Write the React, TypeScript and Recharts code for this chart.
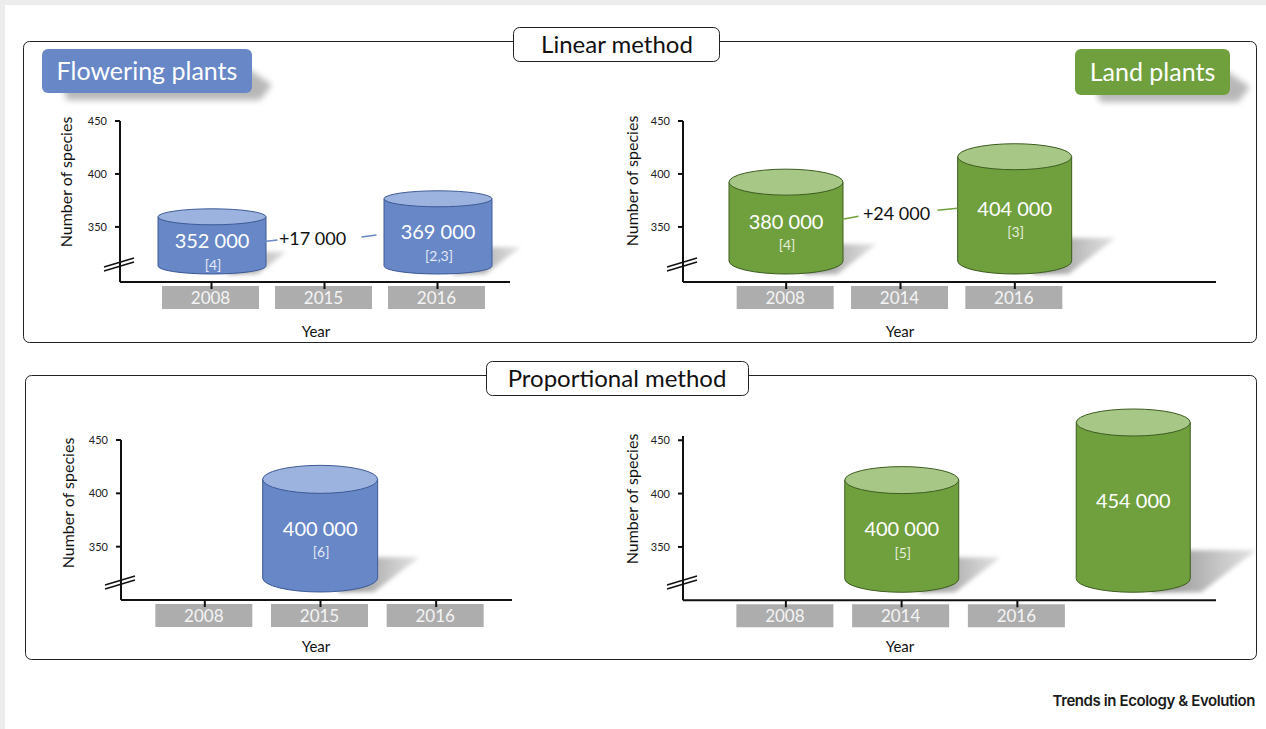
import React from 'react';
import { BarChart, Bar, XAxis, YAxis, ReferenceDot } from 'recharts';

const FONT = 'Lato, "Open Sans", "Noto Sans", sans-serif';

// ---------- data (values in thousands of species) ----------
const yTicks = [350, 400, 450];

const flowerLinearYears = ['2008', '2015', '2016'];
const flowerLinearValues = [352, null, 369];
const flowerLinearRefs = ['[4]', '', '[2,3]'];
const flowerLinearDelta = '+17 000';
const flowerLinearDeltaYear = '2015';
const flowerLinearDeltaAnchor = 339.5;

const landLinearYears = ['2008', '2014', '2016'];
const landLinearValues = [380, null, 404];
const landLinearRefs = ['[4]', '', '[3]'];
const landLinearDelta = '+24 000';
const landLinearDeltaYear = '2014';
const landLinearDeltaAnchor = 363;

const flowerPropYears = ['2008', '2015', '2016'];
const flowerPropValues = [null, 400, null];
const flowerPropRefs = ['', '[6]', ''];

const landPropYears = ['2008', '2014', '2016', ''];
const landPropValues = [null, 400, null, 454];
const landPropRefs = ['', '[5]', '', ''];

const build = (years: string[], values: (number | null)[], refs: string[]) =>
  years.map((year, i) => ({ year, value: values[i], ref: refs[i] }));

const BLUE = { body: '#6787C7', top: '#9BB3DE', stroke: '#3E5A96', ref: '#E3E9F5', line: '#6787C7' };
const GREEN = { body: '#70A03E', top: '#A6C786', stroke: '#3C5C1F', ref: '#E5EEDB', line: '#70A03E' };

function Cylinder(props: any) {
  const { x, y, width, height, payload, ry, palette, uid, index } = props;
  if (!payload || payload.value == null || !isFinite(y) || !isFinite(height)) return <g />;
  const base = y + height;
  const cx = x + width / 2;
  const rx = width / 2;
  const topC = y - ry;
  const lowest = base - 8;
  const botC = lowest - ry;
  const R = x + width;
  const bodyH = botC - topC;
  const ext = 0.42 * bodyH;
  const sh = Math.min(42, 0.25 * bodyH + 10);
  const gid = `sg-${uid}-${index}`;
  const fid = `sf-${uid}-${index}`;
  const midY = (topC + botC) / 2;
  return (
    <g>
      <defs>
        <linearGradient id={gid} x1="0" y1="0" x2="1" y2="0">
          <stop offset="0" stopColor="#7a7a7a" stopOpacity={0.95} />
          <stop offset="1" stopColor="#c8c8c8" stopOpacity={0.55} />
        </linearGradient>
        <filter id={fid} x="-30%" y="-30%" width="160%" height="160%">
          <feGaussianBlur stdDeviation="2" />
        </filter>
      </defs>
      <polygon
        points={`${R - 40},${lowest} ${R - 12},${lowest - sh} ${R + ext},${lowest - sh} ${R + ext - 1.3 * sh},${lowest}`}
        fill={`url(#${gid})`}
        filter={`url(#${fid})`}
      />
      <path
        d={`M${x},${topC} L${x},${botC} A${rx},${ry} 0 0 0 ${R},${botC} L${R},${topC} Z`}
        fill={palette.body}
        stroke={palette.stroke}
        strokeWidth={1}
      />
      <ellipse cx={cx} cy={topC} rx={rx} ry={ry} fill={palette.top} stroke={palette.stroke} strokeWidth={1} />
      <text x={cx} y={midY + 7} textAnchor="middle" fontSize={20} fill="#ffffff" fontFamily={FONT}>
        {`${payload.value} 000`}
      </text>
      {payload.ref ? (
        <text x={cx + 1} y={midY + 28.5} textAnchor="middle" fontSize={14} fill={palette.ref} fontFamily={FONT}>
          {payload.ref}
        </text>
      ) : null}
    </g>
  );
}

function YearTick(props: any) {
  const { x, y, payload } = props;
  if (!payload || !payload.value) return <g />;
  return (
    <g>
      <rect x={x - 49.5} y={y + 4} width={97} height={23} fill="#adadad" />
      <line x1={x} y1={y} x2={x} y2={y + 7} stroke="#111" strokeWidth={2} />
      <text x={x - 1} y={y + 22} textAnchor="middle" fontSize={17} fill="#f4f4f4" fontFamily={FONT}>
        {payload.value}
      </text>
    </g>
  );
}

function DeltaLabel(props: any) {
  const { cx, cy, text, dx, l1, l2, color } = props;
  if (!isFinite(cx) || !isFinite(cy)) return <g />;
  return (
    <g>
      <line x1={cx + l1[0]} y1={cy + l1[1]} x2={cx + l1[2]} y2={cy + l1[3]} stroke={color} strokeWidth={1.5} />
      <line x1={cx + l2[0]} y1={cy + l2[1]} x2={cx + l2[2]} y2={cy + l2[3]} stroke={color} strokeWidth={1.5} />
      <text x={cx + dx} y={cy + 6.5} textAnchor="middle" fontSize={18} fill="#111" fontFamily={FONT}>
        {text}
      </text>
    </g>
  );
}

type Layout = { left: number; right: number; top: number; bottom: number };

function CylinderChart(props: any) {
  const { id, data, layout, domain, padding, barSize, ry, palette, delta } = props;
  const L: Layout = layout;
  const mTop = 50, mLeft = 10, yW = 50, xH = 45, mBottom = 5, mRight = 60;
  const divLeft = L.left - yW - mLeft;
  const divTop = L.top - mTop;
  const width = L.right - L.left + yW + mLeft + mRight;
  const height = L.bottom - L.top + mTop + xH + mBottom;
  return (
    <div style={{ position: 'absolute', left: divLeft, top: divTop }}>
      <BarChart
        width={width}
        height={height}
        data={data}
        margin={{ top: mTop, left: mLeft, right: mRight, bottom: mBottom }}
      >
        <XAxis
          dataKey="year"
          type="category"
          padding={padding}
          height={xH}
          tickLine={false}
          tickSize={0}
          tickMargin={0}
          interval={0}
          axisLine={{ stroke: '#111', strokeWidth: 2 }}
          tick={<YearTick />}
        />
        <YAxis
          type="number"
          domain={domain}
          ticks={yTicks}
          interval={0}
          width={yW}
          tickSize={5}
          tickMargin={8}
          axisLine={{ stroke: '#111', strokeWidth: 2 }}
          tickLine={{ stroke: '#111', strokeWidth: 2 }}
          tick={{ fontSize: 11, fill: '#222', fontFamily: FONT }}
        />
        <Bar
          dataKey="value"
          barSize={barSize}
          isAnimationActive={false}
          shape={(p: any) => <Cylinder {...p} ry={ry} palette={palette} uid={id} />}
        />
        {delta ? (
          <ReferenceDot
            x={delta.year}
            y={delta.anchor}
            r={0}
            isFront
            shape={(p: any) => <DeltaLabel {...p} {...delta} color={palette.line} />}
          />
        ) : null}
      </BarChart>
    </div>
  );
}

const PX_PER_UNIT_BOTTOM = 160 / 150;
const landPropMax = Math.max(450, ...(landPropValues.filter((v) => v != null) as number[]));

const layoutTL: Layout = { left: 120, right: 510, top: 121, bottom: 282 };
const layoutTR: Layout = { left: 683, right: 1216, top: 121, bottom: 282 };
const layoutBL: Layout = { left: 121, right: 512, top: 440, bottom: 600 };
const layoutBR: Layout = { left: 683, right: 1216, top: 440 - (landPropMax - 450) * PX_PER_UNIT_BOTTOM, bottom: 600 };

function BreakMark({ L }: { L: Layout }) {
  const x = L.left;
  const b = L.bottom;
  return (
    <g stroke="#111" strokeWidth={1.5}>
      <line x1={x - 16} y1={b - 11} x2={x + 14} y2={b - 20} />
      <line x1={x - 16} y1={b - 15} x2={x + 14} y2={b - 24} />
    </g>
  );
}

function TagBox({ x, y, w, h, fill, text }: any) {
  const R = x + w;
  const B = y + h;
  return (
    <g>
      <polygon
        points={`${x + 20},${B - 8} ${R - 5},${B - 25} ${R + 20},${B - 8} ${R + 8},${B + 7} ${x + 25},${B + 7}`}
        fill="#9a9a9a"
        opacity={0.7}
        filter="url(#tagBlur)"
      />
      <rect x={x} y={y} width={w} height={h} rx={6} fill={fill} />
      <text x={x + w / 2} y={y + h / 2 + 8.5} textAnchor="middle" fontSize={25} fill="#fff" fontFamily={FONT}>
        {text}
      </text>
    </g>
  );
}

export default function App() {
  const dTL = build(flowerLinearYears, flowerLinearValues, flowerLinearRefs);
  const dTR = build(landLinearYears, landLinearValues, landLinearRefs);
  const dBL = build(flowerPropYears, flowerPropValues, flowerPropRefs);
  const dBR = build(landPropYears, landPropValues, landPropRefs);

  return (
    <div
      style={{
        position: 'absolute',
        left: 0,
        top: 0,
        width: 1266,
        height: 729,
        overflow: 'hidden',
        background: '#ffffff',
        fontFamily: FONT,
      }}
    >
      <svg width={1266} height={729} style={{ position: 'absolute', left: 0, top: 0 }}>
        <defs>
          <filter id="tagBlur" x="-20%" y="-50%" width="140%" height="200%">
            <feGaussianBlur stdDeviation="3" />
          </filter>
        </defs>
        <rect x={0} y={0} width={1266} height={729} fill="#ececec" />
        <rect x={5} y={5} width={1261} height={724} fill="#ffffff" />

        {/* panels */}
        <rect x={23.5} y={41.5} width={1233} height={301} rx={6} fill="#fff" stroke="#222" strokeWidth={1} />
        <rect x={25.5} y={375.5} width={1231} height={284} rx={6} fill="#fff" stroke="#222" strokeWidth={1} />

        <rect x={513.5} y={27.5} width={206} height={34} rx={6} fill="#fff" stroke="#222" strokeWidth={1} />
        <text x={617} y={53} textAnchor="middle" fontSize={24} fill="#111" fontFamily={FONT}>
          Linear method
        </text>
        <rect x={486.5} y={361.5} width={262} height={34} rx={6} fill="#fff" stroke="#222" strokeWidth={1} />
        <text x={617} y={387} textAnchor="middle" fontSize={24} fill="#111" fontFamily={FONT}>
          Proportional method
        </text>

        <TagBox x={42} y={49} w={210} h={44} fill="#6787C7" text="Flowering plants" />
        <TagBox x={1075} y={49} w={155} h={46} fill="#70A03E" text="Land plants" />

        {/* axis titles */}
        {[
          [65, 182],
          [631, 181],
          [67, 503],
          [631, 499],
        ].map(([x, y], i) => (
          <text
            key={`ns${i}`}
            x={x}
            y={y}
            transform={`rotate(-90 ${x} ${y})`}
            textAnchor="middle"
            dominantBaseline="central"
            fontSize={16}
            fill="#111"
            fontFamily={FONT}
          >
            Number of species
          </text>
        ))}
        {[
          [316, 337],
          [900, 337],
          [316, 652],
          [900, 652],
        ].map(([x, y], i) => (
          <text key={`yr${i}`} x={x} y={y} textAnchor="middle" fontSize={15} fill="#111" fontFamily={FONT}>
            Year
          </text>
        ))}

        <BreakMark L={layoutTL} />
        <BreakMark L={layoutTR} />
        <BreakMark L={layoutBL} />
        <BreakMark L={layoutBR} />

        <text
          x={1255}
          y={706}
          textAnchor="end"
          fontSize={15}
          fontWeight={600}
          letterSpacing={-0.4}
          fill="#1a1a1a"
          fontFamily="Inter, 'Liberation Sans', sans-serif"
        >
          Trends in Ecology &amp; Evolution
        </text>
      </svg>

      <CylinderChart
        id="tl"
        data={dTL}
        layout={layoutTL}
        domain={[298, 450]}
        padding={{ left: 35, right: 16 }}
        barSize={108}
        ry={8}
        palette={BLUE}
        delta={{
          year: flowerLinearDeltaYear,
          anchor: flowerLinearDeltaAnchor,
          text: flowerLinearDelta,
          dx: -12,
          l1: [-65, 4, -47, 2],
          l2: [37, -1, 52, -3],
        }}
      />
      <CylinderChart
        id="tr"
        data={dTR}
        layout={layoutTR}
        domain={[298, 450]}
        padding={{ left: 46, right: 144 }}
        barSize={114}
        ry={13}
        palette={GREEN}
        delta={{
          year: landLinearDeltaYear,
          anchor: landLinearDeltaAnchor,
          text: landLinearDelta,
          dx: -4,
          l1: [-58, 6, -42, 3],
          l2: [37, -3, 57, -5],
        }}
      />
      <CylinderChart
        id="bl"
        data={dBL}
        layout={layoutBL}
        domain={[300, 450]}
        padding={{ left: 26, right: 18 }}
        barSize={115}
        ry={14}
        palette={BLUE}
      />
      <CylinderChart
        id="br"
        data={dBR}
        layout={layoutBR}
        domain={[300, 450]}
        padding={{ left: 45, right: 25 }}
        barSize={114}
        ry={13.5}
        palette={GREEN}
      />
    </div>
  );
}
